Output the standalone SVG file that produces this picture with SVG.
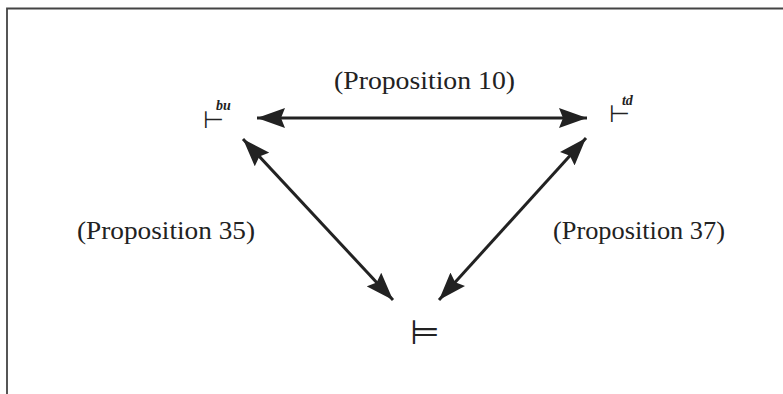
<svg xmlns="http://www.w3.org/2000/svg" width="783" height="394" viewBox="0 0 783 394">
<style>
.lbl{font-family:"Liberation Serif",serif;font-size:26px;fill:#222}
.sym{font-family:"DejaVu Sans",sans-serif;fill:#222}
.sup{font-family:"Liberation Serif",serif;font-style:italic;font-weight:bold;font-size:14px}
.conn{stroke:#222;stroke-width:3;fill:none;marker-start:url(#ah);marker-end:url(#ah)}
</style>
<defs>
<marker id="ah" viewBox="-28 -10 28 20" refX="0" refY="0" markerWidth="28" markerHeight="20" markerUnits="userSpaceOnUse" orient="auto-start-reverse">
<path d="M0,0 L-28,-10 L-24,0 L-28,10 Z" fill="#222"/>
</marker>
</defs>
<rect width="783" height="394" fill="#fff"/>
<path d="M7,394 V8.5 H783" stroke="#444" stroke-width="1.8" fill="none"/>
<g id="bu">
<text class="sym" x="203" y="128" font-size="24">⊢<tspan class="sup" dx="-8" dy="-18">bu</tspan></text>
</g>
<g id="td">
<text class="sym" x="609" y="122" font-size="24">⊢<tspan class="sup" dx="-8" dy="-17">td</tspan></text>
</g>
<g id="models">
<text class="sym" x="410" y="344" font-size="34">⊨</text>
</g>
<g id="connectors">
<line class="conn" x1="257" y1="118" x2="587" y2="118"/>
<line class="conn" x1="243" y1="139" x2="393" y2="300"/>
<line class="conn" x1="586" y1="138" x2="439" y2="300"/>
</g>
<g id="labels">
<text class="lbl" x="334" y="89" textLength="181" lengthAdjust="spacingAndGlyphs">(Proposition 10)</text>
<text class="lbl" x="77" y="239" textLength="178" lengthAdjust="spacingAndGlyphs">(Proposition 35)</text>
<text class="lbl" x="553" y="239" textLength="172" lengthAdjust="spacingAndGlyphs">(Proposition 37)</text>
</g>
</svg>
